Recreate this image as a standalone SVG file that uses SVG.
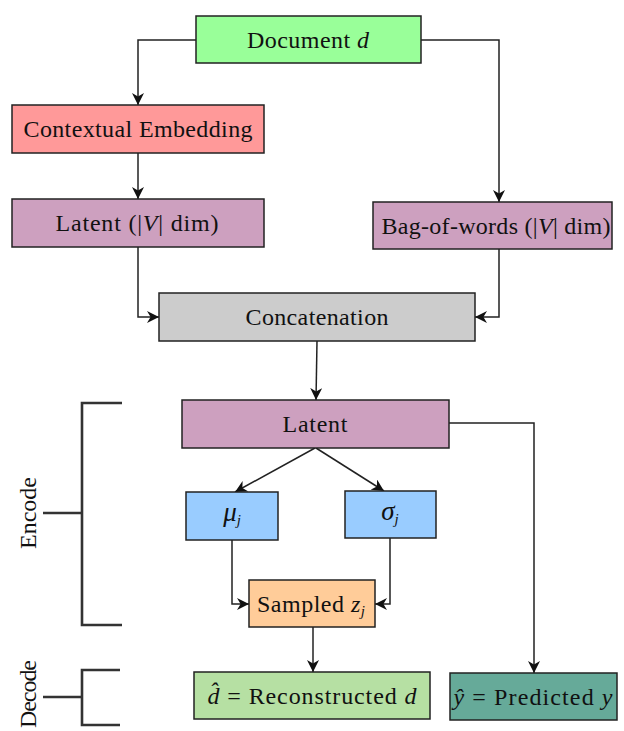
<svg xmlns="http://www.w3.org/2000/svg" width="624" height="731" viewBox="0 0 624 731">
<style>
.box{stroke:#222;stroke-width:1.5}
.t{font-family:"Liberation Serif","Times New Roman",serif;font-size:24px;fill:#111;text-anchor:middle}
.i{font-style:italic}
.s{font-size:15px;font-style:italic}
.g{font-size:27px;font-style:italic}
.c{fill:none;stroke:#222;stroke-width:1.5}
.b{fill:none;stroke:#333;stroke-width:2.6}
</style>
<defs>
<marker id="ar" viewBox="0 0 10 10" refX="10" refY="5" markerWidth="12" markerHeight="12" markerUnits="userSpaceOnUse" orient="auto">
<path d="M0,0 L10,5 L0,10 L3,5 z" fill="#111"/>
</marker>
</defs>
<g id="connectors">
<path class="c" d="M196,40 H138 V105" marker-end="url(#ar)"/>
<path class="c" d="M421,40 H499 V202" marker-end="url(#ar)"/>
<path class="c" d="M138,153 V199" marker-end="url(#ar)"/>
<path class="c" d="M138,247 V317 H159" marker-end="url(#ar)"/>
<path class="c" d="M499,249 V317 H475" marker-end="url(#ar)"/>
<path class="c" d="M317,341 L316,400" marker-end="url(#ar)"/>
<path class="c" d="M315,448 L235,492" marker-end="url(#ar)"/>
<path class="c" d="M316,448 L384,491" marker-end="url(#ar)"/>
<path class="c" d="M232,540 V604 H249" marker-end="url(#ar)"/>
<path class="c" d="M390,538 V604 H375" marker-end="url(#ar)"/>
<path class="c" d="M313,627 V672" marker-end="url(#ar)"/>
<path class="c" d="M449,423 H534 V673" marker-end="url(#ar)"/>
</g>
<g id="brackets">
<path class="b" d="M122,403 H82 V625 H122"/>
<path class="b" d="M43,513 H82"/>
<path class="b" d="M120,670 H82 V725 H120"/>
<path class="b" d="M43,697 H82"/>
<text class="t" transform="translate(36,513) rotate(-90)" textLength="72" lengthAdjust="spacing">Encode</text>
<text class="t" transform="translate(36,694) rotate(-90)" textLength="68" lengthAdjust="spacing">Decode</text>
</g>
<g id="document">
<rect class="box" x="196" y="16" width="225" height="47" fill="#99ff99"/>
<text class="t" x="308" y="48" textLength="122" lengthAdjust="spacing">Document <tspan class="i">d</tspan></text>
</g>
<g id="contextual">
<rect class="box" x="12" y="105" width="252" height="48" fill="#ff9999"/>
<text class="t" x="138" y="137" textLength="229" lengthAdjust="spacing">Contextual Embedding</text>
</g>
<g id="latent-v">
<rect class="box" x="12" y="199" width="252" height="48" fill="#cda0bf"/>
<text class="t" x="137" y="231" textLength="163" lengthAdjust="spacing">Latent (|<tspan class="i">V</tspan>| dim)</text>
</g>
<g id="bow">
<rect class="box" x="373" y="202" width="239" height="47" fill="#cda0bf"/>
<text class="t" x="496" y="234" textLength="229" lengthAdjust="spacing">Bag-of-words (|<tspan class="i">V</tspan>| dim)</text>
</g>
<g id="concat">
<rect class="box" x="159" y="293" width="316" height="48" fill="#cccccc"/>
<text class="t" x="317" y="325" textLength="143" lengthAdjust="spacing">Concatenation</text>
</g>
<g id="latent">
<rect class="box" x="182" y="400" width="267" height="48" fill="#cda0bf"/>
<text class="t" x="315" y="432" textLength="65" lengthAdjust="spacing">Latent</text>
</g>
<g id="mu">
<rect class="box" x="186" y="492" width="92" height="48" fill="#99ccff"/>
<text class="t" x="232" y="521"><tspan class="g">μ</tspan><tspan class="s" dy="4">j</tspan></text>
</g>
<g id="sigma">
<rect class="box" x="345" y="491" width="91" height="47" fill="#99ccff"/>
<text class="t" x="390" y="520"><tspan class="g">σ</tspan><tspan class="s" dy="4">j</tspan></text>
</g>
<g id="sampled">
<rect class="box" x="249" y="580" width="126" height="47" fill="#ffcc99"/>
<text class="t" x="311" y="612" textLength="108" lengthAdjust="spacing">Sampled <tspan class="i">z</tspan><tspan class="s" dy="4">j</tspan></text>
</g>
<g id="reconstructed">
<rect class="box" x="194" y="672" width="236" height="47" fill="#b6e0a3"/>
<text class="t" x="312" y="704" textLength="209" lengthAdjust="spacing"><tspan class="i">d̂</tspan> = Reconstructed <tspan class="i">d</tspan></text>
</g>
<g id="predicted">
<rect class="box" x="450" y="673" width="167" height="47" fill="#66aa99"/>
<text class="t" x="533" y="705" textLength="159" lengthAdjust="spacing"><tspan class="i">ŷ</tspan> = Predicted <tspan class="i">y</tspan></text>
</g>
</svg>
